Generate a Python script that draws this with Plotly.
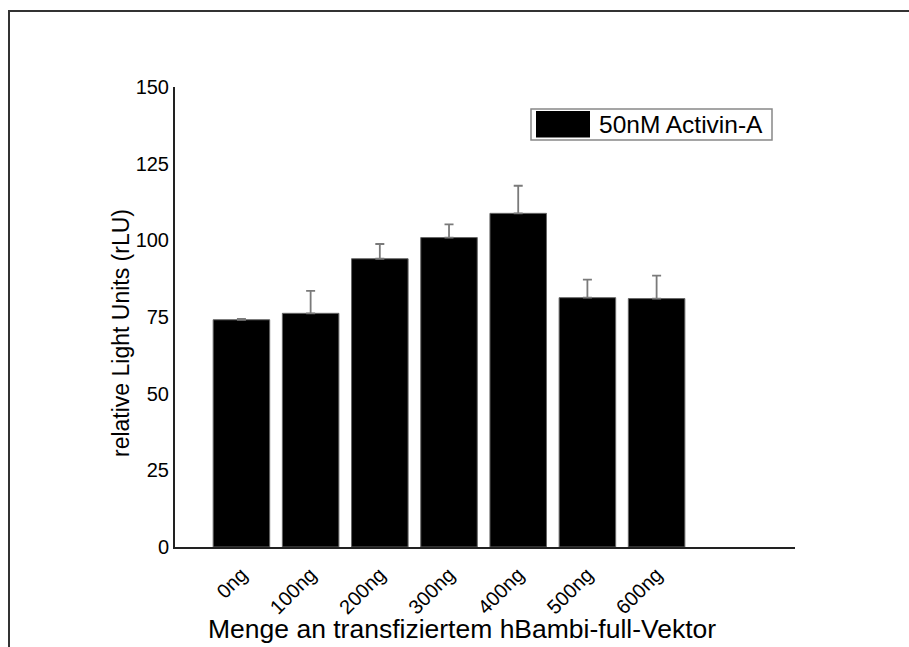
import plotly.graph_objects as go

categories = ["0ng", "100ng", "200ng", "300ng", "400ng", "500ng", "600ng"]
values = [74.1, 76.2, 94.0, 100.9, 108.8, 81.3, 81.0]
errors = [0.3, 7.3, 4.8, 4.3, 9.0, 5.9, 7.5]
series_name = "50nM Activin-A"
y_ticks = [0, 25, 50, 75, 100, 125, 150]
x_title = "Menge an transfiziertem hBambi-full-Vektor"
y_title = "relative Light Units (rLU)"

W, H = 909, 647
L, R, T, B = 175, 114, 87, 100
pw, ph = W - L - R, H - T - B

def px(x):
    return (x - L) / pw

def py(y):
    return (H - B - y) / ph

FONT = "Liberation Sans, Arial, sans-serif"

fig = go.Figure()
fig.add_trace(go.Bar(
    x=categories, y=values, name=series_name,
    marker=dict(color="black", line=dict(color="#666666", width=1)),
    width=0.817,
    error_y=dict(type="data", array=errors, arrayminus=[0] * len(errors), symmetric=False,
                 visible=True, color="#7a7a7a", thickness=1.8, width=4.5),
    showlegend=False,
))

shapes = [
    # outer frame
    dict(type="rect", xref="paper", yref="paper", x0=px(9), x1=px(930), y0=py(670), y1=py(11),
         line=dict(color="#333333", width=2), fillcolor="rgba(0,0,0,0)", layer="below"),
    # legend box
    dict(type="rect", xref="paper", yref="paper", x0=px(531), x1=px(772), y0=py(140), y1=py(109),
         line=dict(color="#888888", width=1.5), fillcolor="white"),
    dict(type="rect", xref="paper", yref="paper", x0=px(536), x1=px(590), y0=py(137.5), y1=py(111),
         line=dict(color="black", width=0), fillcolor="black"),
]

annotations = [
    dict(text=series_name, xref="paper", yref="paper", x=px(597), y=py(124.5), xanchor="left", yanchor="middle",
         showarrow=False, font=dict(family=FONT, size=24.5, color="black")),
    dict(text=y_title, xref="paper", yref="paper", x=px(121), y=py(333), xanchor="center", yanchor="middle",
         textangle=-90, showarrow=False, font=dict(family=FONT, size=23, color="black")),
    dict(text=x_title, xref="paper", yref="paper", x=px(462), y=py(629), xanchor="center", yanchor="middle",
         showarrow=False, font=dict(family=FONT, size=26.5, color="black")),
]

fig.update_layout(
    width=W, height=H,
    margin=dict(l=L, r=R, t=T, b=B, pad=0),
    paper_bgcolor="white", plot_bgcolor="white",
    shapes=shapes, annotations=annotations,
    font=dict(family=FONT, color="black"),
)
fig.update_xaxes(
    range=[-0.96, 8.0], showline=True, linecolor="#222222", linewidth=2,
    ticks="", tickangle=-45, tickfont=dict(family=FONT, size=20, color="black"),
    showgrid=False, zeroline=False, ticklabelstandoff=6,
)
fig.update_yaxes(
    range=[0, 150], tickvals=y_ticks, showline=True, linecolor="#222222", linewidth=2,
    ticks="", tickfont=dict(family=FONT, size=20, color="black"),
    showgrid=False, zeroline=False, ticklabelstandoff=0,
)

fig.write_html("out.html")
